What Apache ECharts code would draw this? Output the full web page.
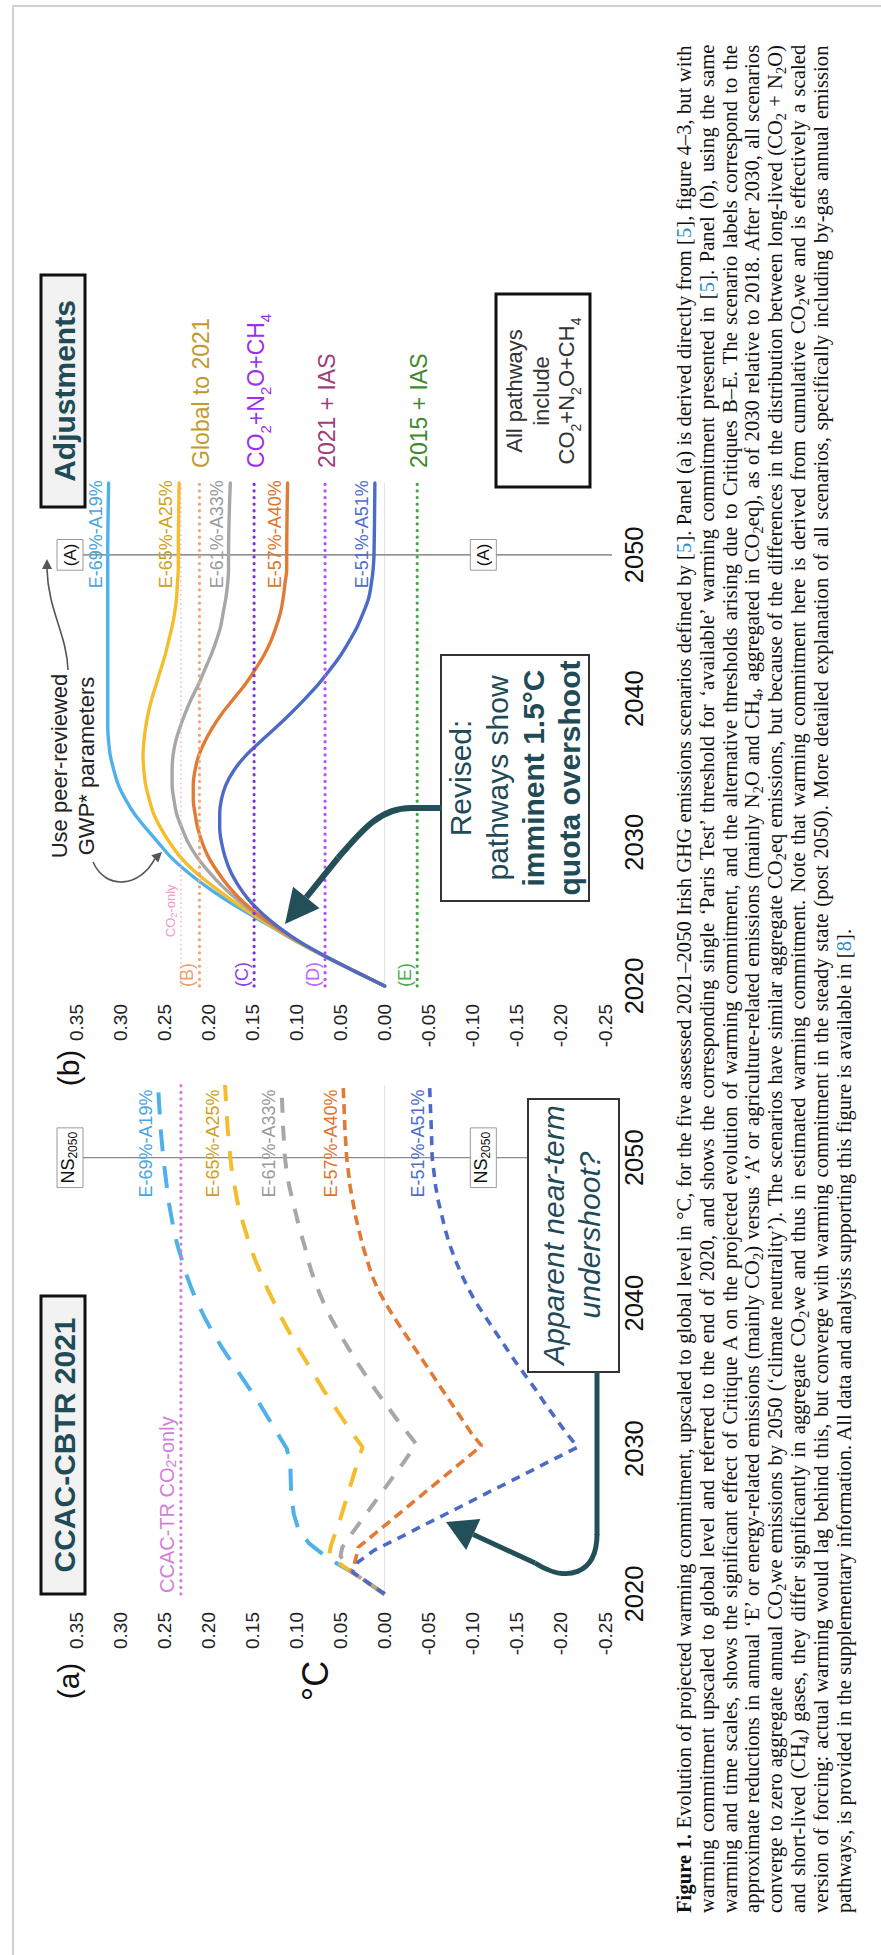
<!DOCTYPE html>
<html>
<head>
<meta charset="utf-8">
<title>Figure 1</title>
<script src="https://cdn.jsdelivr.net/npm/echarts@6.0.0/dist/echarts.min.js"></script>
<style>
html,body{margin:0;padding:0;background:#fff;}
body{width:881px;height:1955px;overflow:hidden;position:relative;}
#frame{position:absolute;left:12px;top:5px;right:0;bottom:0;border-left:2px solid #d0d0d0;border-top:2px solid #d0d0d0;}
#rot{position:absolute;left:0;top:0;width:1955px;height:881px;transform-origin:0 0;transform:translate(0px,1955px) rotate(-90deg);}
#chart{position:absolute;left:0;top:0;width:1955px;height:881px;}
#caption{position:absolute;left:42px;top:673px;width:1868px;font-family:'Liberation Serif','Times New Roman',serif;font-size:20.5px;line-height:22.8px;color:#111;}
#caption .ln{white-space:nowrap;height:22.8px;}
#caption sub{font-size:0.7em;line-height:0;vertical-align:-0.28em;}
#caption .ref{color:#1f8bd0;}
</style>
</head>
<body>
<div id="frame"></div>
<div id="rot">
<div id="chart"></div>
<div id="caption">
<div class="ln"><span><b>Figure 1.</b> Evolution of projected warming commitment, upscaled to global level in °C, for the five assessed 2021–2050 Irish GHG emissions scenarios defined by [<span class="ref">5</span>]. Panel (a) is derived directly from [<span class="ref">5</span>], figure 4–3, but with</span></div>
<div class="ln"><span>warming commitment upscaled to global level and referred to the end of 2020, and shows the corresponding single ‘Paris Test’ threshold for ‘available’ warming commitment presented in [<span class="ref">5</span>]. Panel (b), using the same</span></div>
<div class="ln"><span>warming and time scales, shows the significant effect of Critique A on the projected evolution of warming commitment, and the alternative thresholds arising due to Critiques B–E. The scenario labels correspond to the</span></div>
<div class="ln"><span>approximate reductions in annual ‘E’ or energy-related emissions (mainly CO<sub>2</sub>) versus ‘A’ or agriculture-related emissions (mainly N<sub>2</sub>O and CH<sub>4</sub>, aggregated in CO<sub>2</sub>eq), as of 2030 relative to 2018. After 2030, all scenarios</span></div>
<div class="ln"><span>converge to zero aggregate annual CO<sub>2</sub>we emissions by 2050 (‘climate neutrality’). The scenarios have similar aggregate CO<sub>2</sub>eq emissions, but because of the differences in the distribution between long-lived (CO<sub>2</sub> + N<sub>2</sub>O)</span></div>
<div class="ln"><span>and short-lived (CH<sub>4</sub>) gases, they differ significantly in aggregate CO<sub>2</sub>we and thus in estimated warming commitment. Note that warming commitment here is derived from cumulative CO<sub>2</sub>we and is effectively a scaled</span></div>
<div class="ln"><span>version of forcing: actual warming would lag behind this, but converge with warming commitment in the steady state (post 2050). More detailed explanation of all scenarios, specifically including by-gas annual emission</span></div>
<div class="ln"><span>pathways, is provided in the supplementary information. All data and analysis supporting this figure is available in [<span class="ref">8</span>].</span></div>
</div>
</div>
<script>
// ---------------- DATA ----------------
const yearTicks = [2020, 2030, 2040, 2050];
const xRange = [2020, 2055];
const yRange = [-0.25, 0.35];
const yStep = 0.05;
const netZeroYear = 2050;
const scenarioNames = ['E-69%-A19%', 'E-65%-A25%', 'E-61%-A33%', 'E-57%-A40%', 'E-51%-A51%'];

// Panel (a): CCAC-CBTR 2021 pathways (dashed)
const a69 = [[2020,0],[2021.5,0.037],[2022.5,0.065],[2023.5,0.086],[2024.5,0.098],[2025.5,0.103],[2027,0.106],[2029,0.107],[2030,0.111],[2031,0.121],[2032,0.131],[2033,0.141],[2034,0.152],[2035,0.163],[2036,0.174],[2037,0.185],[2038,0.195],[2039,0.204],[2040,0.212],[2041,0.219],[2042,0.225],[2043,0.230],[2044,0.235],[2045,0.239],[2046,0.242],[2047,0.245],[2048,0.247],[2049,0.249],[2050,0.251],[2052,0.254],[2055,0.257]];
const a65 = [[2020,0],[2021.5,0.037],[2022.6,0.063],[2023.3,0.061],[2024,0.057],[2025,0.051],[2026,0.046],[2027,0.041],[2028,0.036],[2029,0.031],[2030.1,0.025],[2031,0.036],[2032,0.047],[2033,0.058],[2034,0.069],[2035,0.079],[2036,0.089],[2037,0.099],[2038,0.108],[2039,0.117],[2040,0.125],[2041,0.133],[2042,0.140],[2043,0.147],[2044,0.153],[2045,0.158],[2046,0.163],[2047,0.167],[2048,0.170],[2049,0.173],[2050,0.175],[2052,0.178],[2055,0.181]];
const a61 = [[2020,0],[2021.5,0.037],[2022.6,0.050],[2023.2,0.048],[2024,0.039],[2025,0.027],[2026,0.015],[2027,0.003],[2028,-0.009],[2029,-0.021],[2030.3,-0.036],[2031,-0.027],[2032,-0.014],[2033,-0.002],[2034,0.010],[2035,0.021],[2036,0.032],[2037,0.042],[2038,0.052],[2039,0.061],[2040,0.069],[2041,0.076],[2042,0.082],[2043,0.087],[2044,0.091],[2045,0.096],[2046,0.100],[2047,0.104],[2048,0.108],[2049,0.111],[2050,0.113],[2052,0.115],[2055,0.117]];
const a57 = [[2020,0],[2021.5,0.037],[2022.6,0.032],[2023.2,0.030],[2024,0.014],[2025,-0.006],[2026,-0.026],[2027,-0.046],[2028,-0.066],[2029,-0.086],[2030.2,-0.110],[2031,-0.099],[2032,-0.088],[2033,-0.077],[2034,-0.066],[2035,-0.055],[2036,-0.044],[2037,-0.033],[2038,-0.022],[2039,-0.011],[2040,-0.001],[2041,0.008],[2042,0.015],[2043,0.020],[2044,0.025],[2045,0.029],[2046,0.033],[2047,0.036],[2048,0.039],[2049,0.041],[2050,0.043],[2052,0.045],[2055,0.047]];
const a51 = [[2020,0],[2021.5,0.036],[2022.2,0.030],[2023,0.012],[2024,-0.021],[2025,-0.053],[2026,-0.086],[2027,-0.118],[2028,-0.151],[2029,-0.183],[2030.1,-0.219],[2031,-0.207],[2032,-0.195],[2033,-0.183],[2034,-0.172],[2035,-0.160],[2036,-0.148],[2037,-0.137],[2038,-0.126],[2039,-0.115],[2040,-0.104],[2041,-0.095],[2042,-0.087],[2043,-0.080],[2044,-0.074],[2045,-0.069],[2046,-0.065],[2047,-0.061],[2048,-0.058],[2049,-0.056],[2050,-0.054],[2052,-0.053],[2055,-0.051]];

// Panel (b): Adjusted pathways (solid)
const b69 = [[2020,0],[2021,0.033],[2022,0.066],[2023,0.097],[2024,0.125],[2025,0.153],[2026,0.180],[2027,0.204],[2028,0.225],[2029,0.243],[2030,0.257],[2031,0.271],[2032,0.284],[2033,0.294],[2034,0.302],[2035,0.307],[2036,0.311],[2037,0.313],[2038,0.314],[2040,0.314],[2045,0.314],[2050,0.314],[2055,0.313]];
const b65 = [[2020,0],[2021,0.033],[2022,0.066],[2023,0.097],[2024,0.124],[2025,0.150],[2026,0.174],[2027,0.196],[2028,0.216],[2029,0.232],[2030,0.244],[2031,0.254],[2032,0.262],[2033,0.267],[2034,0.271],[2035,0.273],[2036,0.274],[2037,0.273],[2038,0.271],[2039,0.268],[2040,0.264],[2041,0.259],[2042,0.254],[2043,0.249],[2044,0.245],[2045,0.241],[2046,0.238],[2047,0.236],[2048,0.235],[2049,0.234],[2050,0.234],[2055,0.233]];
const b61 = [[2020,0],[2021,0.033],[2022,0.066],[2023,0.096],[2024,0.122],[2025,0.146],[2026,0.167],[2027,0.185],[2028,0.200],[2029,0.213],[2030,0.223],[2031,0.230],[2032,0.236],[2033,0.239],[2034,0.241],[2035,0.241],[2036,0.240],[2037,0.237],[2038,0.232],[2039,0.226],[2040,0.219],[2041,0.211],[2042,0.204],[2043,0.197],[2044,0.191],[2045,0.186],[2046,0.183],[2047,0.180],[2048,0.178],[2049,0.177],[2050,0.177],[2055,0.175]];
const b57 = [[2020,0],[2021,0.033],[2022,0.065],[2023,0.095],[2024,0.121],[2025,0.144],[2026,0.163],[2027,0.178],[2028,0.190],[2029,0.200],[2030,0.207],[2031,0.212],[2032,0.215],[2033,0.217],[2034,0.217],[2035,0.215],[2036,0.211],[2037,0.204],[2038,0.195],[2039,0.184],[2040,0.171],[2041,0.158],[2042,0.147],[2043,0.137],[2044,0.129],[2045,0.123],[2046,0.118],[2047,0.115],[2048,0.113],[2049,0.111],[2050,0.111],[2055,0.110]];
const b51 = [[2020,0],[2021,0.033],[2022,0.065],[2023,0.094],[2024,0.118],[2025,0.138],[2026,0.154],[2027,0.166],[2028,0.175],[2029,0.181],[2030,0.185],[2031,0.187],[2032,0.187],[2033,0.185],[2034,0.180],[2035,0.171],[2036,0.158],[2037,0.141],[2038,0.123],[2039,0.106],[2040,0.090],[2041,0.075],[2042,0.062],[2043,0.050],[2044,0.040],[2045,0.031],[2046,0.024],[2047,0.018],[2048,0.015],[2049,0.013],[2050,0.012],[2055,0.011]];

// Thresholds (text parts: [string, isSubscript])
const aThresholdName = [['CCAC-TR CO', 0], ['2', 1], ['-only', 0]];
const aThreshold = 0.231;
const bThresholdNames = [[['CO', 0], ['2', 1], ['-only', 0]], [['(B)', 0]], [['(C)', 0]], [['(D)', 0]], [['(E)', 0]]];
const bThresholds = [0.231, 0.210, 0.148, 0.0675, -0.037];
const adjustmentNames = [[['Global to 2021', 0]], [['CO', 0], ['2', 1], ['+N', 0], ['2', 1], ['O+CH', 0], ['4', 1]], [['2021 + IAS', 0]], [['2015 + IAS', 0]]];
const nsLabel = [['NS', 0], ['2050', 1]];

// ---------------- STYLE ----------------
const FONT = "'Liberation Sans', Arial, Helvetica, sans-serif";
const scenarioColors = ['#4eb1ea', '#f5bd2b', '#a7a7a7', '#e17a35', '#4b6bc6'];
const scenarioTextColors = ['#4aa5e0', '#d0a11e', '#9a9a9a', '#e0732d', '#4c6dcb'];
const dashPatterns = [[22, 15], [20, 15], [15, 13], [10, 6], [9, 7]];
const bThresholdColors = ['#f5a9cf', '#f2a678', '#7d30d8', '#b84dff', '#3eaa3e'];
const bThresholdTextColors = ['#f09ac4', '#f0a06a', '#8c3fe0', '#bb66ff', '#4cb04c'];
const adjustmentColors = ['#c29a2c', '#9a2ff0', '#a0407a', '#3f8a2c'];
const TEAL = '#1f4b57';

const chart = echarts.init(document.getElementById('chart'), null, { renderer: 'svg' });

const grids = [
  { left: 361, top: 76, width: 509, height: 529, outerBoundsMode: 'none' },
  { left: 969, top: 76, width: 503, height: 529, outerBoundsMode: 'none' }
];
const xAxes = [0, 1].map(g => ({
  type: 'value', gridIndex: g, min: xRange[0], max: xRange[1], interval: 10,
  axisLine: { show: false }, axisTick: { show: false }, splitLine: { show: false },
  axisLabel: { fontSize: 25.5, color: '#111', margin: 16, fontFamily: FONT, showMaxLabel: false,
    formatter: v => yearTicks.indexOf(v) >= 0 ? String(v) : '' }
}));
const yAxes = [0, 1].map(g => ({
  type: 'value', gridIndex: g, min: yRange[0], max: yRange[1], interval: yStep,
  axisLine: { show: false }, axisTick: { show: false }, splitLine: { show: false },
  axisLabel: { fontSize: 19, color: '#222', margin: 18, fontFamily: FONT,
    formatter: v => (Math.abs(v) < 1e-9 ? 0 : v).toFixed(2) }
}));

function seg(g, data, color, width, type, extra) {
  return Object.assign({
    type: 'line', xAxisIndex: g, yAxisIndex: g, data: data, symbol: 'none', silent: true,
    animation: false, lineStyle: { color: color, width: width, type: type, cap: 'butt' }, z: 3
  }, extra || {});
}
function hline(v) { return [[xRange[0], v], [xRange[1], v]]; }
function dotted(g, v, color, w, gap) {
  return seg(g, hline(v), color, w, [0.1, gap], { z: 5, lineStyle: { color: color, width: w, type: [0.1, gap], cap: 'round' } });
}

const series = [];
series.push(seg(0, hline(0), '#e2e2e2', 1, 'solid', { z: 1 }));
series.push(seg(1, hline(0), '#e2e2e2', 1, 'solid', { z: 1 }));
series.push(seg(0, [[netZeroYear, 0.357], [netZeroYear, -0.258]], '#8a8a8a', 1.2, 'solid', { clip: false, z: 2 }));
series.push(seg(1, [[netZeroYear, 0.357], [netZeroYear, -0.258]], '#6e6e6e', 1.2, 'solid', { clip: false, z: 2 }));
[a69, a65, a61, a57, a51].forEach((d, i) => {
  series.push(seg(0, d, scenarioColors[i], i < 3 ? 4 : 3.6, dashPatterns[i], { z: 4 }));
});
series.push(dotted(0, aThreshold, '#d47ed8', 3.2, 6.5));
[b69, b65, b61, b57, b51].forEach((d, i) => {
  series.push(seg(1, d, scenarioColors[i], 3.4, 'solid', { smooth: 0.35, z: 4, lineStyle: { color: scenarioColors[i], width: 3.4, cap: 'round' } }));
});
bThresholds.forEach((v, i) => {
  series.push(dotted(1, v, bThresholdColors[i], i === 0 ? 1.6 : 3.2, i === 0 ? 4.5 : 6.5));
});

chart.setOption({ animation: false, grid: grids, xAxis: xAxes, yAxis: yAxes, series: series });

// ---------------- ANNOTATIONS ----------------
function P(g, x, y) { return chart.convertToPixel({ gridIndex: g }, [x, y]); }
const G = [];
const mctx = document.createElement('canvas').getContext('2d');
function tw(s, size, weight) { mctx.font = (weight || 'normal') + ' ' + size + 'px ' + FONT; return mctx.measureText(s).width; }
function txt(x, y, text, o) {
  const st = Object.assign({ text: text, fill: '#111', fontSize: 18, fontFamily: FONT, align: 'center', verticalAlign: 'middle' }, o || {});
  st.textAlign = st.align; st.textVerticalAlign = st.verticalAlign;
  G.push({ type: 'text', x: x, y: y, z: 110, silent: true, style: st });
}
// text with subscripts; y = vertical middle of the main text
function subTxt(x, y, parts, o) {
  const fs = o.fontSize, ss = o.subSize || Math.round(fs * 0.64), shift = o.subShift == null ? fs * 0.22 : o.subShift;
  const widths = parts.map(p => tw(p[0], p[1] ? ss : fs));
  const total = widths.reduce((a, b) => a + b, 0);
  let cx = o.align === 'center' ? x - total / 2 : (o.align === 'right' ? x - total : x);
  const base = y + 0.35 * fs;
  parts.forEach((p, i) => {
    const size = p[1] ? ss : fs;
    const yy = p[1] ? base + shift - 0.35 * size : y;
    txt(cx, yy, p[0], { fontSize: size, fill: o.fill, align: 'left', verticalAlign: 'middle' });
    cx += widths[i];
  });
  return total;
}
function box(x, y, w, h, fill, stroke, lw) {
  G.push({ type: 'rect', z: 105, silent: true, shape: { x: x, y: y, width: w, height: h }, style: { fill: fill, stroke: stroke, lineWidth: lw } });
}
function ln(x1, y1, x2, y2, c, w) {
  G.push({ type: 'line', z: 106, silent: true, shape: { x1: x1, y1: y1, x2: x2, y2: y2 }, style: { stroke: c, lineWidth: w, lineCap: 'butt' } });
}
function bez(p, c1, c2, q, c, w) {
  G.push({ type: 'bezierCurve', z: 106, silent: true, shape: { x1: p[0], y1: p[1], cpx1: c1[0], cpy1: c1[1], cpx2: c2[0], cpy2: c2[1], x2: q[0], y2: q[1] }, style: { stroke: c, lineWidth: w, fill: null } });
}
function head(tip, from, len, half, c) {
  const dx = tip[0] - from[0], dy = tip[1] - from[1];
  const L = Math.sqrt(dx * dx + dy * dy), ux = dx / L, uy = dy / L;
  const bx = tip[0] - len * ux, by = tip[1] - len * uy;
  G.push({ type: 'polygon', z: 107, silent: true, shape: { points: [tip, [bx + half * uy, by - half * ux], [bx - half * uy, by + half * ux]] }, style: { fill: c } });
  return [bx, by];
}

// panel labels
txt(274, 68, '(a)', { fontSize: 30 });
txt(887, 68, '(b)', { fontSize: 30 });
txt(274, 315, '°C', { fontSize: 36 });

// title boxes
box(361, 41, 298, 44, '#f2f2f2', '#111', 3);
txt(510, 64, 'CCAC-CBTR 2021', { fontSize: 30, fontWeight: 'bold', fill: TEAL });
box(1448, 41, 232, 44, '#f2f2f2', '#111', 3);
txt(1564, 64, 'Adjustments', { fontSize: 30, fontWeight: 'bold', fill: TEAL });

// net-zero markers
[0, 1].forEach(g => {
  const top = P(g, netZeroYear, 0.3568), low = P(g, netZeroYear, -0.112);
  [top, low].forEach(p => {
    if (g === 0) {
      const w = tw('NS', 18) + tw('2050', 12) + 8;
      box(p[0] - w / 2, p[1] - 13, w, 26, '#fff', '#9a9a9a', 1);
      subTxt(p[0], p[1] - 2, nsLabel, { fontSize: 18, subSize: 12, subShift: 3, fill: '#111', align: 'center' });
    } else {
      const w = tw('(A)', 17) + 8;
      box(p[0] - w / 2, p[1] - 13, w, 26, '#fff', '#9a9a9a', 1);
      txt(p[0], p[1], '(A)', { fontSize: 17, fill: '#111' });
    }
  });
});

// panel (a) threshold label
(function () {
  const p = P(0, xRange[0], aThreshold);
  subTxt(p[0] + 1, p[1] - 14, aThresholdName, { fontSize: 20, subSize: 14, subShift: 2, fill: '#d47ed8', align: 'left' });
})();

// scenario end labels
[a69, a65, a61, a57, a51].forEach((d, i) => {
  const p = P(0, 2054.7, d[d.length - 1][1]);
  txt(p[0], p[1] - 3, scenarioNames[i], { fontSize: 18, fill: scenarioTextColors[i], align: 'right', verticalAlign: 'bottom' });
});
[b69, b65, b61, b57, b51].forEach((d, i) => {
  const p = P(1, 2055.2, d[d.length - 1][1]);
  txt(p[0], p[1] - 4, scenarioNames[i], { fontSize: 18, fill: scenarioTextColors[i], align: 'right', verticalAlign: 'bottom' });
});

// panel (b) threshold labels and adjustment names
bThresholds.forEach((v, i) => {
  if (i === 0) {
    const p = P(1, 2023.4, v);
    subTxt(p[0], p[1] - 10, bThresholdNames[i], { fontSize: 13, subSize: 9, subShift: 2, fill: bThresholdTextColors[i], align: 'left' });
  } else {
    const p = P(1, xRange[0], v);
    txt(p[0] - 1, p[1] - 3, bThresholdNames[i][0][0], { fontSize: 18, fill: bThresholdTextColors[i], align: 'left', verticalAlign: 'bottom' });
    const q = P(1, 2056.05, v);
    subTxt(q[0], q[1] + 2, adjustmentNames[i - 1], { fontSize: 23, subSize: 15, subShift: 7, fill: adjustmentColors[i - 1], align: 'left' });
  }
});

// "All pathways include" box
box(1468, 496, 193, 94, '#fff', '#111', 3);
txt(1564, 514, 'All pathways', { fontSize: 22, fill: '#333' });
txt(1564, 541, 'include', { fontSize: 22, fill: '#333' });
subTxt(1564, 566, adjustmentNames[1], { fontSize: 22, subSize: 14, subShift: 7, fill: '#333', align: 'center' });

// GWP* note and arrows
txt(1189, 59, 'Use peer-reviewed', { fontSize: 22, fill: '#222' });
txt(1189, 86, 'GWP* parameters', { fontSize: 22, fill: '#222' });
(function () {
  const b1 = head([1103, 162], [1082, 140], 10, 5, '#555');
  bez([1093, 93], [1064, 106], [1068, 140], b1, '#555', 1.6);
  const b2 = head([1396, 47], [1370, 47], 10, 5, '#555');
  bez([1285, 68], [1320, 67], [1345, 48], b2, '#555', 1.6);
})();

// Revised box + arrow
box(1054, 441, 246, 148, '#fff', '#333', 2);
txt(1177, 460, 'Revised:', { fontSize: 30, fill: TEAL });
txt(1177, 497, 'pathways show', { fontSize: 30, fill: TEAL });
txt(1177, 533, 'imminent 1.5°C', { fontSize: 30, fill: TEAL, fontWeight: 'bold' });
txt(1177, 569, 'quota overshoot', { fontSize: 30, fill: TEAL, fontWeight: 'bold' });
(function () {
  const c = '#234f58';
  ln(1147, 442, 1147, 410, c, 6);
  bez([1147, 411], [1147, 380], [1125, 362], [1097, 338], c, 6);
  const b = head([1031, 285], [1097, 338], 34, 17, c);
  ln(1097, 338, b[0], b[1], c, 6);
})();

// Undershoot box + arrow
box(583, 528, 273, 91, '#fff', '#333', 2);
txt(720, 553, 'Apparent near-term', { fontSize: 30, fill: TEAL, fontStyle: 'italic' });
txt(720, 589, 'undershoot?', { fontSize: 30, fill: TEAL, fontStyle: 'italic' });
(function () {
  const c = '#234f58';
  ln(583, 597, 420, 597, c, 5);
  bez([421, 597], [380, 597], [372, 566], [392, 535], c, 5);
  const b = head([433, 446], [392, 535], 30, 17, c);
  ln(392, 535, b[0], b[1], c, 5);
})();

chart.setOption({ graphic: { elements: G } });

// ---------------- CAPTION JUSTIFICATION ----------------
(function () {
  const lines = Array.from(document.querySelectorAll('#caption .ln'));
  const W = lines[0].clientWidth;
  let maxW = 0, maxC = 1;
  lines.slice(0, -1).forEach(l => {
    const w = l.firstElementChild.offsetWidth;
    if (w > maxW) { maxW = w; maxC = l.firstElementChild.textContent.length; }
  });
  let ls = (W - maxW) / maxC * 0.85;
  ls = Math.max(-0.4, Math.min(0.8, ls));
  document.getElementById('caption').style.letterSpacing = ls + 'px';
  lines.forEach((l, i) => {
    if (i === lines.length - 1) return;
    const sp = l.firstElementChild;
    const w = sp.offsetWidth;
    const n = (sp.textContent.match(/ /g) || []).length;
    if (n > 0) sp.style.wordSpacing = ((W - w) / n) + 'px';
  });
})();
</script>
</body>
</html>
